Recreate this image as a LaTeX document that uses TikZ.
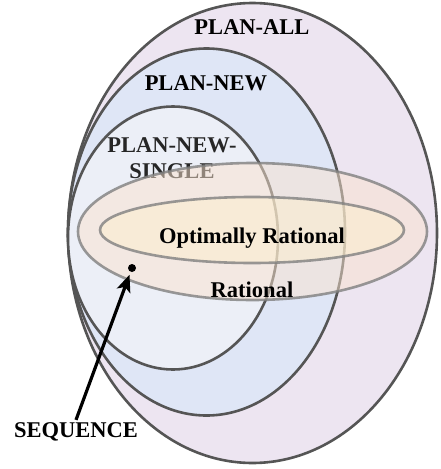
\documentclass[tikz,border=0pt]{standalone}
\usepackage{fontspec}
\setmainfont{Liberation Serif}
\usetikzlibrary{positioning,arrows.meta,shapes.geometric}
\definecolor{allfill}{HTML}{EDE5F1}
\definecolor{newfill}{HTML}{DFE6F6}
\definecolor{singlefill}{HTML}{ECEFF7}
\definecolor{ratfill}{RGB}{250,227,207}
\definecolor{optfill}{RGB}{253,239,205}
\definecolor{setline}{HTML}{555555}

\begin{document}
\begin{tikzpicture}[
    x=1pt,y=-1pt,
    setbox/.style={ellipse,draw=setline,line width=2.6pt,inner sep=0pt},
    ratbox/.style={ellipse,draw=gray,draw opacity=0.8,line width=2.6pt,inner sep=0pt,fill opacity=0.5},
    setlabel/.style={font=\fontsize{22.5}{26}\selectfont\bfseries,anchor=base,inner sep=2pt},
    arrow/.style={-{Stealth[length=17pt,width=14pt,inset=4pt]},line width=3.2pt},
]
\useasboundingbox (0,0) rectangle (440,469);

% Nested plan sets
\node[setbox,fill=allfill,minimum width=369pt,minimum height=460pt]    (all)    at (252.5,233) {};
\node[setbox,fill=newfill,minimum width=277pt,minimum height=367pt]    (new)    at (206.5,232) {};
\node[setbox,fill=singlefill,minimum width=210pt,minimum height=263pt] (single) at (173,238) {};

\node[setlabel] (lall) at (252,34) {PLAN-ALL};
\node[setlabel] (lnew) at (206,90) {PLAN-NEW};
\node[setlabel,anchor=center,align=center,text=black!85] (lsingle) at (172,158) {PLAN-NEW-\\SINGLE};

% Rationality sets (translucent, on top)
\node[ratbox,fill=ratfill,minimum width=349pt,minimum height=137pt] (rat) at (252.5,231.5) {};
\node[ratbox,fill=optfill,minimum width=304pt,minimum height=66pt]  (opt) at (252,230) {};

\node[setlabel] (lopt) at (252,243) {Optimally Rational};
\node[setlabel] (lrat) at (252,297) {Rational};

% Example sequence
\node[circle,fill=black,minimum size=8pt,inner sep=0pt] (dot) at (132,268) {};
\node[setlabel] (seq) at (76,437) {SEQUENCE};
\draw[arrow,shorten >=3pt] (seq.north) -- (dot);
\end{tikzpicture}
\end{document}
